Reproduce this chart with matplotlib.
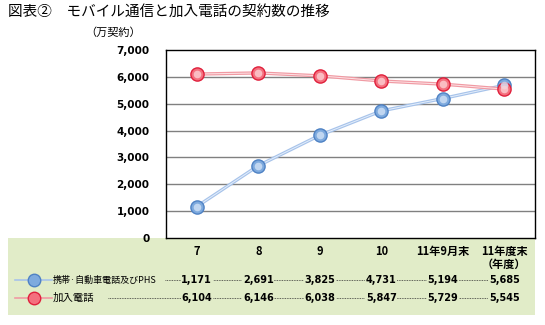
import matplotlib.pyplot as plt
from matplotlib.patches import Rectangle
from matplotlib.lines import Line2D
import matplotlib.transforms as mtransforms

plt.rcParams['font.family'] = ['Noto Sans CJK JP', 'DejaVu Sans']

# データ（万契約）
categories = ['7', '8', '9', '10', '11年9月末', '11年度末\n（年度）']
mobile = [1171, 2691, 3825, 4731, 5194, 5685]
fixed = [6104, 6146, 6038, 5847, 5729, 5545]
series_names = ['携帯·自動車電話及びPHS', '加入電話']
yticks = [0, 1000, 2000, 3000, 4000, 5000, 6000, 7000]

W, H = 545, 325
fig = plt.figure(figsize=(W / 100, H / 100), dpi=100)
fig.patch.set_facecolor('white')
num_font = dict(family='DejaVu Sans', fontweight='bold')


def fx(px):
    return px / W


def fy(py):
    return 1 - py / H


# 下の緑の表部分
fig.patches.append(Rectangle((fx(8), fy(315)), fx(535) - fx(8), fy(238) - fy(315),
                             transform=fig.transFigure, facecolor='#e1ecc8',
                             edgecolor='none', zorder=-1))

ax = fig.add_axes([fx(166), fy(238), fx(535) - fx(166), fy(50) - fy(238)])
ax.set_facecolor('white')
ax.set_xlim(-0.5, len(categories) - 0.5)
ax.set_ylim(0, 7000)
ax.set_yticks(yticks)
ax.set_yticklabels([f'{v:,}' for v in yticks], fontsize=7.5, **num_font)
ax.tick_params(axis='y', length=0, pad=12)
ax.set_xticks([])
for v in yticks[1:-1]:
    ax.axhline(v, color='#808080', lw=1.0, zorder=1)
for s in ax.spines.values():
    s.set_color('black')
    s.set_linewidth(1.0)

x = list(range(len(categories)))


def glossy_line(ax, xs, ys, line_c, inner_c, face, edge, hi):
    ax.plot(xs, ys, color=line_c, lw=2.4, zorder=2, solid_capstyle='round')
    ax.plot(xs, ys, color=inner_c, lw=0.7, zorder=2)
    ax.plot(xs, ys, ls='none', marker='o', ms=9.5, mfc=face, mec=edge, mew=1.0, zorder=3)
    ax.plot(xs, ys, ls='none', marker='o', ms=5.5, mfc=hi, mec='none', alpha=0.8, zorder=4)


glossy_line(ax, x, mobile, '#a7c3ea', '#e4eefb', '#7eaade', '#4f82c4', '#d2e2f6')
glossy_line(ax, x, fixed, '#f09aa3', '#fde3e6', '#f4707e', '#e0203c', '#fcd0d4')

# 表の部分（x は軸のデータ座標、y は図座標）
trans = mtransforms.blended_transform_factory(ax.transData, fig.transFigure)

for i, c in enumerate(categories):
    fig.text(i, fy(245), c, transform=trans, ha='center', va='top',
             fontsize=8, fontweight='bold', linespacing=1.0)

rows = [(mobile, fy(280), '#a7c3ea', '#7eaade', '#4f82c4', 165, 6.5),
        (fixed, fy(298), '#f09aa3', '#f4707e', '#e0203c', 108, 7.5)]
for (vals, yy, lc, face, edge, dot_start, fs), name in zip(rows, series_names):
    # 凡例の線とマーカー
    fig.lines.append(Line2D([fx(15), fx(52)], [yy, yy], transform=fig.transFigure,
                            color=lc, lw=1.2, zorder=1))
    fig.lines.append(Line2D([fx(34)], [yy], transform=fig.transFigure, ls='none',
                            marker='o', ms=9, mfc=face, mec=edge, mew=1.0, zorder=2))
    fig.text(fx(53), yy, name, ha='left', va='center', fontsize=fs)
    # 点線のリーダー
    x0 = ax.transData.inverted().transform((dot_start, 0))[0]
    fig.lines.append(Line2D([x0, len(vals) - 1], [yy, yy], transform=trans,
                            color='#333333', lw=0.6, ls=(0, (1, 1)), zorder=1))
    for i, v in enumerate(vals):
        fig.text(i, yy, f'{v:,}', transform=trans, ha='center', va='center',
                 fontsize=7, zorder=3, **num_font,
                 bbox=dict(facecolor='#e1ecc8', edgecolor='none', pad=0.5))

fig.text(fx(8), fy(12), '図表②　モバイル通信と加入電話の契約数の推移', ha='left', va='center', fontsize=10.5)
fig.text(fx(141), fy(33), '（万契約）', ha='right', va='center', fontsize=8)

fig.savefig('out.png', dpi=100)
